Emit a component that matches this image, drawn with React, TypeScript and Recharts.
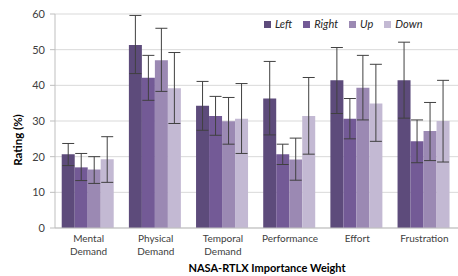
import { Bar, BarChart, CartesianGrid, ErrorBar, XAxis, YAxis } from "recharts";

const CATEGORIES = [
  "Mental Demand",
  "Physical Demand",
  "Temporal Demand",
  "Performance",
  "Effort",
  "Frustration",
];

const LEFT = [20.7, 51.3, 34.3, 36.3, 41.4, 41.4];
const RIGHT = [17.0, 42.1, 31.4, 20.7, 30.6, 24.3];
const UP = [16.4, 47.0, 29.9, 19.2, 39.3, 27.2];
const DOWN = [19.3, 39.2, 30.6, 31.4, 34.9, 30.0];

// error bar ends (low, high)
const LEFT_LOW = [17.5, 43.3, 27.4, 26.1, 32.1, 30.8];
const LEFT_HIGH = [23.7, 59.6, 41.1, 46.7, 50.6, 52.1];
const RIGHT_LOW = [13.3, 35.8, 26.0, 17.8, 25.0, 18.3];
const RIGHT_HIGH = [20.9, 48.4, 36.9, 23.5, 36.3, 30.3];
const UP_LOW = [12.5, 38.3, 23.5, 13.4, 30.3, 18.9];
const UP_HIGH = [20.0, 56.0, 36.6, 25.2, 48.4, 35.2];
const DOWN_LOW = [12.8, 29.3, 20.9, 20.7, 24.3, 18.5];
const DOWN_HIGH = [25.6, 49.2, 40.5, 42.2, 45.9, 41.4];

const Y_TICKS = [0, 10, 20, 30, 40, 50, 60];

const SERIES = [
  { key: "Left", values: LEFT, low: LEFT_LOW, high: LEFT_HIGH, color: "#5d4b7b" },
  { key: "Right", values: RIGHT, low: RIGHT_LOW, high: RIGHT_HIGH, color: "#735a96" },
  { key: "Up", values: UP, low: UP_LOW, high: UP_HIGH, color: "#9b89b3" },
  { key: "Down", values: DOWN, low: DOWN_LOW, high: DOWN_HIGH, color: "#c3b9d3" },
];

const data = CATEGORIES.map((name, i) => {
  const row: Record<string, unknown> = { name };
  SERIES.forEach((s) => {
    row[s.key] = s.values[i];
    row[s.key + "Err"] = [s.values[i] - s.low[i], s.high[i] - s.values[i]];
  });
  return row;
});

const FONT = "Lato, 'Liberation Sans', sans-serif";

function CategoryTick(props: any) {
  const { x, y, payload } = props;
  const words = String(payload.value).split(" ");
  return (
    <text
      x={x}
      y={y + 6}
      textAnchor="middle"
      fill="#404040"
      fontSize={10}
      fontFamily={FONT}
    >
      {words.map((w: string, i: number) => (
        <tspan key={i} x={x} dy={i === 0 ? 0 : 13}>
          {w}
        </tspan>
      ))}
    </text>
  );
}

export default function App() {
  return (
    <div style={{ position: "absolute", left: 0, top: 0, width: 458, height: 276, background: "#fff" }}>
      <BarChart
        width={458}
        height={276}
        data={data}
        margin={{ top: 14, right: 0, bottom: 0, left: 0 }}
        barCategoryGap="10%"
        barGap={0}
      >
        <CartesianGrid vertical={false} stroke="#d9d9d9" />
        <XAxis
          dataKey="name"
          height={48}
          tickLine={false}
          axisLine={{ stroke: "#bfbfbf" }}
          tick={<CategoryTick />}
          interval={0}
          label={{
            content: () => (
              <text
                x={267}
                y={272}
                textAnchor="middle"
                fontWeight="bold"
                fontSize={11}
                fill="#000"
                fontFamily={FONT}
              >
                NASA-RTLX Importance Weight
              </text>
            ),
          }}
        />
        <YAxis
          width={55}
          domain={[0, 60]}
          ticks={Y_TICKS}
          tickSize={5}
          tickMargin={5}
          tickLine={{ stroke: "#bfbfbf" }}
          axisLine={{ stroke: "#bfbfbf" }}
          tick={{ fill: "#404040", fontSize: 11, fontFamily: FONT }}
          label={{
            content: () => (
              <text
                x={22}
                y={140}
                transform="rotate(-90 22 140)"
                textAnchor="middle"
                fontWeight="bold"
                fontSize={11.5}
                fill="#000"
                fontFamily={FONT}
              >
                Rating (%)
              </text>
            ),
          }}
        />
        {SERIES.map((s) => (
          <Bar key={s.key} dataKey={s.key} fill={s.color} isAnimationActive={false}>
            <ErrorBar
              dataKey={s.key + "Err"}
              width={6}
              stroke="#404040"
              strokeWidth={1}
              isAnimationActive={false}
            />
          </Bar>
        ))}
      </BarChart>
      <div
        style={{
          position: "absolute",
          left: 264,
          top: 17,
          display: "flex",
          gap: 11,
          fontFamily: FONT,
          fontSize: 11,
          fontStyle: "italic",
          color: "#262626",
          lineHeight: "14px",
        }}
      >
        {SERIES.map((s) => (
          <div key={s.key} style={{ display: "flex", alignItems: "center", gap: 4 }}>
            <span style={{ width: 7, height: 7, background: s.color, display: "inline-block" }} />
            <span>{s.key}</span>
          </div>
        ))}
      </div>
    </div>
  );
}
